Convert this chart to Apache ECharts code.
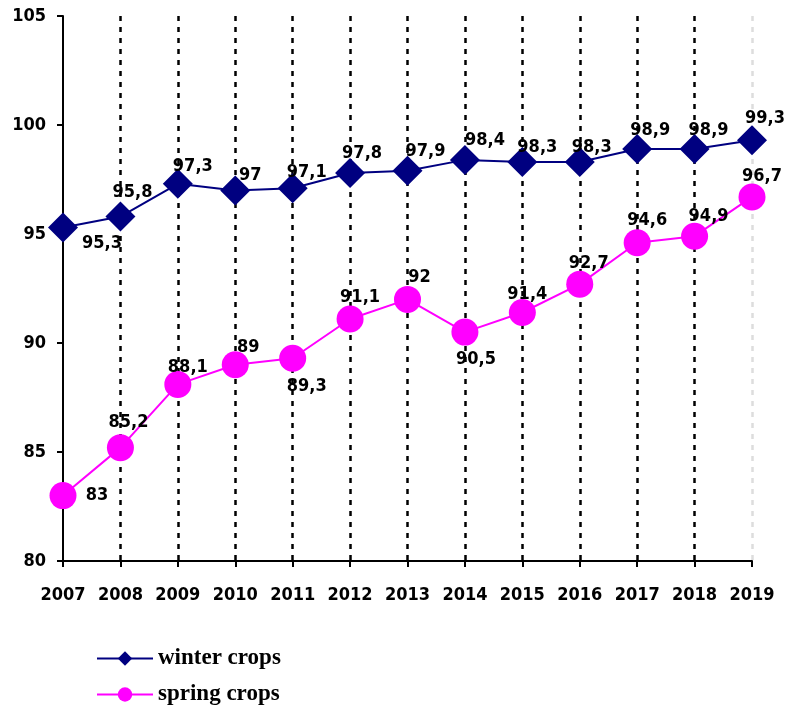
<!DOCTYPE html>
<html>
<head>
<meta charset="utf-8">
<script src="https://cdn.jsdelivr.net/npm/echarts@6/dist/echarts.min.js"></script>
<style>
  html, body { margin: 0; padding: 0; background: #fff; }
  #chart { width: 787px; height: 708px; }
</style>
</head>
<body>
<div id="chart"></div>
<script>
// chart data
const years = ['2007', '2008', '2009', '2010', '2011', '2012', '2013', '2014', '2015', '2016', '2017', '2018', '2019']
const winterCrops = [95.3, 95.8, 97.3, 97, 97.1, 97.8, 97.9, 98.4, 98.3, 98.3, 98.9, 98.9, 99.3]
const springCrops = [83, 85.2, 88.1, 89, 89.3, 91.1, 92, 90.5, 91.4, 92.7, 94.6, 94.9, 96.7]
const yTicks = [80, 85, 90, 95, 100, 105]

// label offsets from each marker centre
const winterOffsets = [[39, 16], [12, -24], [15, -18], [15, -15], [14, -16], [12, -20], [18, -19], [20, -20], [15, -15], [12, -15], [13, -19], [14, -19], [13, -22]]
const springOffsets = [[34, 0], [8, -25], [10, -17], [13, -17], [14, 28], [10, -22], [12, -22], [11, 27], [5, -18], [9, -21], [10, -22], [14, -20], [10, -21]]

const labelFont = { fontFamily: 'DejaVu Sans Condensed', fontWeight: 'bold', fontSize: 18, color: '#000' }

function fmt(v) {
  return String(v).replace('.', ',')
}

function buildData(values, offsets) {
  return values.map((v, i) => ({
    value: v,
    label: Object.assign({ show: true, position: 'inside', formatter: fmt(v), offset: offsets[i] }, labelFont)
  }))
}

// first line sits on the y axis, last one is faint
const splitColors = years.map((y, i) => (i === 0 ? 'transparent' : i === years.length - 1 ? '#ddd' : '#000'))
const legendText = { fontFamily: 'Liberation Serif', fontWeight: 'bold', fontSize: 23, color: '#000' }

const chart = echarts.init(document.getElementById('chart'))
chart.setOption({
  animation: false,
  backgroundColor: '#fff',
  grid: { left: 63, right: 35, top: 16, bottom: 147 },
  legend: [
    { left: 91, top: 642, itemWidth: 56, itemHeight: 18, textStyle: legendText, data: ['winter crops'] },
    { left: 91, top: 678, itemWidth: 56, itemHeight: 18, textStyle: legendText, data: ['spring crops'] }
  ],
  xAxis: {
    type: 'category',
    data: years,
    boundaryGap: false,
    axisLine: { lineStyle: { color: '#000', width: 2 } },
    axisTick: { show: true, interval: 0, length: 6, lineStyle: { color: '#000', width: 2 } },
    axisLabel: Object.assign({ interval: 0, margin: 25 }, labelFont),
    splitLine: { show: true, interval: 0, lineStyle: { color: splitColors, type: [5, 6], width: 2.5 } }
  },
  yAxis: {
    type: 'value',
    min: 80,
    max: 105,
    interval: 5,
    axisLine: { show: true, lineStyle: { color: '#000', width: 2 } },
    axisTick: { show: true, length: 6, lineStyle: { color: '#000', width: 2 } },
    axisLabel: Object.assign({ margin: 17, formatter: v => (yTicks.includes(v) ? String(v) : '') }, labelFont),
    splitLine: { show: false }
  },
  series: [
    {
      name: 'winter crops',
      type: 'line',
      symbol: 'diamond',
      symbolSize: 30,
      itemStyle: { color: '#000080' },
      lineStyle: { color: '#000080', width: 2 },
      data: buildData(winterCrops, winterOffsets),
      z: 3
    },
    {
      name: 'spring crops',
      type: 'line',
      symbol: 'circle',
      symbolSize: 27,
      itemStyle: { color: '#ff00ff' },
      lineStyle: { color: '#ff00ff', width: 2 },
      data: buildData(springCrops, springOffsets),
      z: 3
    }
  ]
})
</script>
</body>
</html>
